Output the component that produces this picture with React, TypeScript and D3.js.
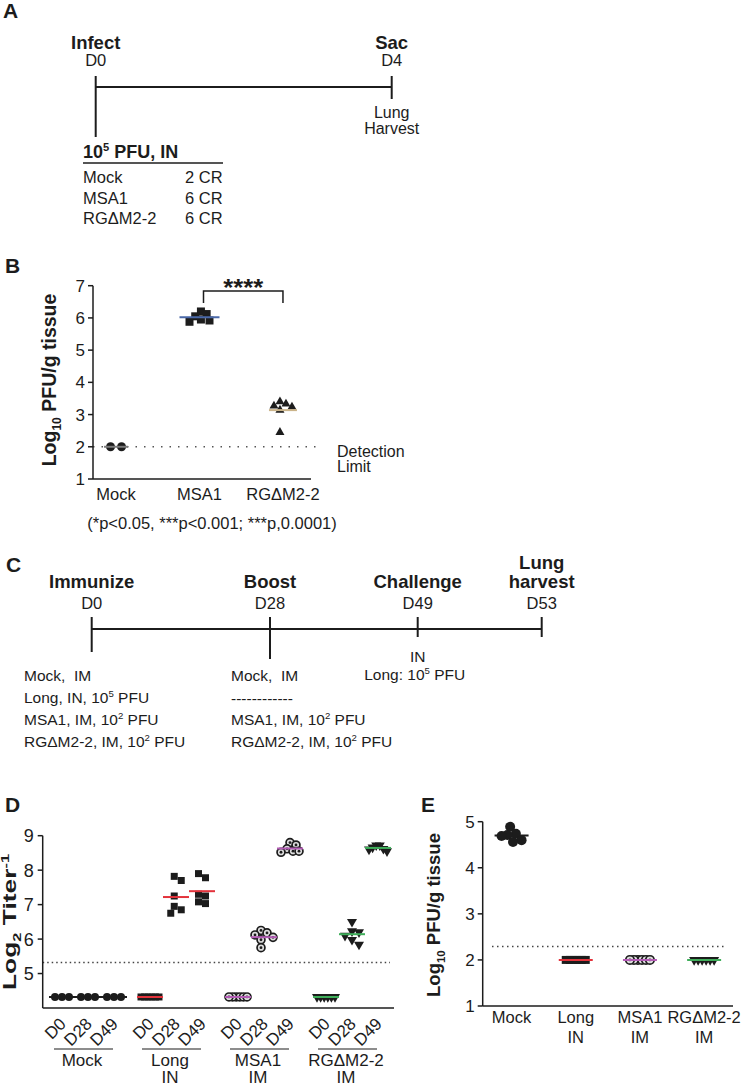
import React from "react";
import * as d3 from "d3";

const FONT = "'Liberation Sans', Arial, Helvetica, sans-serif";
const INK = "#1c1c1c";

// ---------- Panel A data ----------
const infectTitles = ["Infect", "Sac"];
const infectDays = [0, 4];
const infectDayLabels = ["D0", "D4"];
const infectGroups = ["Mock", "MSA1", "RGΔM2-2"];
const infectCounts = ["2 CR", "6 CR", "6 CR"];

// ---------- Panel B data ----------
const bCategories = ["Mock", "MSA1", "RGΔM2-2"];
const bMock = [2.0, 2.0];
const bMSA1 = [6.2, 6.12, 6.05, 5.95, 5.92, 5.88];
const bRG = [3.4, 3.33, 3.27, 3.24, 3.14, 2.45];
const bTicks = [1, 2, 3, 4, 5, 6, 7];
const bLimit = 2;

// ---------- Panel C data ----------
const cDays = [0, 28, 49, 53];
const cDayLabels = ["D0", "D28", "D49", "D53"];
const cTitles = [["Immunize"], ["Boost"], ["Challenge"], ["Lung", "harvest"]];
const cPrime = ["Mock,  IM", "Long, IN, 10^5 PFU", "MSA1, IM, 10^2 PFU", "RGΔM2-2, IM, 10^2 PFU"];
const cBoost = ["Mock,  IM", "------------", "MSA1, IM, 10^2 PFU", "RGΔM2-2, IM, 10^2 PFU"];
const cChallenge = ["IN", "Long: 10^5 PFU"];

// ---------- Panel D data ----------
const dGroups = ["Mock", "Long", "MSA1", "RG"];
const dGroupLabels = [["Mock"], ["Long", "IN"], ["MSA1", "IM"], ["RGΔM2-2", "IM"]];
const dDays = ["D0", "D28", "D49"];
const titerMock = [[4.32, 4.32, 4.32], [4.32, 4.32, 4.32], [4.32, 4.32, 4.32]];
const titerLong = [
  [4.32, 4.32, 4.32, 4.32, 4.32, 4.32],
  [7.82, 7.7, 7.25, 6.95, 6.85, 6.75],
  [7.9, 7.78, 7.3, 7.25, 7.08, 7.03],
];
const titerMSA1 = [
  [4.32, 4.32, 4.32, 4.32, 4.32, 4.32],
  [6.25, 6.18, 6.12, 6.05, 5.98, 5.75],
  [8.8, 8.73, 8.62, 8.55, 8.55, 8.52],
];
const titerRG = [
  [4.32, 4.32, 4.32, 4.32, 4.32, 4.32],
  [6.5, 6.23, 6.2, 6.1, 5.98, 5.84],
  [8.72, 8.72, 8.66, 8.62, 8.6, 8.55],
];
const dTicks = [5, 6, 7, 8, 9];
const dLimit = 5.32;

// ---------- Panel E data ----------
const eCategories = ["Mock", "Long", "MSA1", "RG"];
const eLabels = [["Mock"], ["Long", "IN"], ["MSA1", "IM"], ["RGΔM2-2", "IM"]];
const lungMock = [4.89, 4.74, 4.71, 4.69, 4.6, 4.56];
const lungLong = [2, 2, 2, 2, 2, 2];
const lungMSA1 = [2, 2, 2, 2, 2, 2];
const lungRG = [2, 2, 2, 2, 2, 2];
const eTicks = [1, 2, 3, 4, 5];
const eLimit = 2.29;

// ---------- styles ----------
const groupStyle: Record<string, { marker: string; line: string }> = {
  Mock: { marker: "circle", line: "#1c1c1c" },
  Long: { marker: "square", line: "#e3323b" },
  MSA1: { marker: "target", line: "#b35cb5" },
  RG: { marker: "triangleDown", line: "#3fae5a" },
};

// ---------- helpers ----------
function Rich({ text, fs }: { text: string; fs: number }) {
  const parts = text.split(/([\^_][^\s]+)/).filter((s) => s !== "");
  let shift = 0;
  return (
    <>
      {parts.map((p, i) => {
        if (p[0] === "^" || p[0] === "_") {
          const target = p[0] === "^" ? -fs * 0.38 : fs * 0.28;
          const dy = target - shift;
          shift = target;
          return (
            <tspan key={i} dy={dy} fontSize={fs * 0.62}>
              {p.slice(1)}
            </tspan>
          );
        }
        const dy = -shift;
        shift = 0;
        return (
          <tspan key={i} dy={dy}>
            {p}
          </tspan>
        );
      })}
    </>
  );
}

function dodge(vals: number[], y: (v: number) => number, minDist: number, step: number, maxHalf: number) {
  const order = d3.range(vals.length).sort((a, b) => vals[b] - vals[a]);
  const placed: { dx: number; py: number }[] = [];
  const out: number[] = new Array(vals.length).fill(0);
  for (const i of order) {
    const py = y(vals[i]);
    let chosen = 0;
    for (let k = 0; k < 80; k++) {
      const m = Math.ceil(k / 2);
      const cand = k === 0 ? 0 : k % 2 === 1 ? m * step : -m * step;
      if (placed.every((p) => Math.hypot(cand - p.dx, py - p.py) >= minDist - 1e-6)) {
        chosen = cand;
        break;
      }
    }
    placed.push({ dx: chosen, py });
    out[i] = chosen;
  }
  const lo = d3.min(out) ?? 0;
  const hi = d3.max(out) ?? 0;
  const c = (lo + hi) / 2;
  const half = (hi - lo) / 2;
  const k = half > maxHalf ? maxHalf / half : 1;
  return out.map((o) => (o - c) * k);
}

function Marker({ kind, x, y, s }: { kind: string; x: number; y: number; s: number }) {
  if (kind === "circle") return <circle cx={x} cy={y} r={s / 2} fill={INK} />;
  if (kind === "target")
    return (
      <g>
        <circle cx={x} cy={y} r={s / 2 - 0.8} fill="#dedede" stroke={INK} strokeWidth={1.7} />
        <circle cx={x} cy={y} r={1.4} fill={INK} />
      </g>
    );
  const type = kind === "square" ? d3.symbolSquare : d3.symbolTriangle;
  const area = kind === "square" ? s * s : (s * s * Math.sqrt(3)) / 4;
  const d = d3.symbol().type(type).size(area)() as string;
  return (
    <path
      d={d}
      transform={`translate(${x},${y})${kind === "triangleDown" ? " rotate(180)" : ""}`}
      fill={INK}
    />
  );
}

function Column({
  vals, cx, y, marker, size, lineColor, half, minDist, step, maxHalf,
}: {
  vals: number[]; cx: number; y: d3.ScaleLinear<number, number>; marker: string; size: number;
  lineColor: string; half: number; minDist: number; step: number; maxHalf: number;
}) {
  const offs = dodge(vals, y, minDist, step, maxHalf);
  const m = d3.mean(vals) as number;
  return (
    <g>
      {vals.map((v, i) => (
        <Marker key={i} kind={marker} x={cx + offs[i]} y={y(v)} s={size} />
      ))}
      <line x1={cx - half} x2={cx + half} y1={y(m)} y2={y(m)} stroke={lineColor} strokeWidth={2} />
    </g>
  );
}

function PanelLetter({ x, y, t }: { x: number; y: number; t: string }) {
  return (
    <text x={x} y={y} fontSize={21} fontWeight="bold" fill={INK}>
      {t}
    </text>
  );
}

// ---------- Panel A ----------
function PanelA() {
  const x = d3.scaleLinear().domain([0, 4]).range([95.7, 391.7]);
  const tableX = 83;
  const countX = 185;
  const rowY = d3.scalePoint<string>().domain(infectGroups).range([183, 224]);
  return (
    <g fill={INK}>
      <PanelLetter x={3} y={18} t="A" />
      {infectDays.map((d, i) => (
        <g key={i}>
          <text x={x(d)} y={49} textAnchor="middle" fontSize={18.5} fontWeight="bold">
            {infectTitles[i]}
          </text>
          <text x={x(d)} y={66} textAnchor="middle" fontSize={16.5}>
            {infectDayLabels[i]}
          </text>
        </g>
      ))}
      <line x1={x(0)} x2={x(4)} y1={87} y2={87} stroke={INK} strokeWidth={2} />
      <line x1={x(0)} x2={x(0)} y1={76} y2={137} stroke={INK} strokeWidth={2} />
      <line x1={x(4)} x2={x(4)} y1={76} y2={99} stroke={INK} strokeWidth={2} />
      <text x={x(4)} y={118} textAnchor="middle" fontSize={16}>Lung</text>
      <text x={x(4)} y={133.5} textAnchor="middle" fontSize={16}>Harvest</text>
      <text x={tableX} y={158} fontSize={18} fontWeight="bold">
        <Rich text="10^5 PFU, IN" fs={18} />
      </text>
      <line x1={tableX} x2={223} y1={163} y2={163} stroke={INK} strokeWidth={1.5} />
      {infectGroups.map((g, i) => (
        <g key={g}>
          <text x={tableX} y={rowY(g)} fontSize={16.5}>{g}</text>
          <text x={countX} y={rowY(g)} fontSize={16.5}>{infectCounts[i]}</text>
        </g>
      ))}
    </g>
  );
}

// ---------- Panel B ----------
function PanelB() {
  const y = d3.scaleLinear().domain([1, 7]).range([479, 285.7]);
  const x = d3.scalePoint<string>().domain(bCategories).range([91, 308]).padding(0.3);
  const x0 = 93, x1 = 311;
  const series = [
    { cat: "Mock", vals: bMock, marker: "circle", size: 9, color: "#7a7a7a", half: 12, minDist: 10, step: 5.5, maxHalf: 6 },
    { cat: "MSA1", vals: bMSA1, marker: "square", size: 8, color: "#4a68a8", half: 20, minDist: 7, step: 3.5, maxHalf: 10 },
    { cat: "RGΔM2-2", vals: bRG, marker: "triangleUp", size: 9, color: "#cbb48a", half: 14, minDist: 7, step: 3.5, maxHalf: 9 },
  ];
  const bx1 = (x("MSA1") as number) + 4;
  const bx2 = x("RGΔM2-2") as number;
  return (
    <g fill={INK}>
      <PanelLetter x={5} y={273} t="B" />
      <line x1={x0} x2={317} y1={y(bLimit)} y2={y(bLimit)} stroke="#555" strokeWidth={1.5} strokeDasharray="1.5 7" />
      {series.map((s) => (
        <Column key={s.cat} vals={s.vals} cx={x(s.cat) as number} y={y} marker={s.marker} size={s.size}
          lineColor={s.color} half={s.half} minDist={s.minDist} step={s.step} maxHalf={s.maxHalf} />
      ))}
      <line x1={x0} x2={x0} y1={y(7)} y2={y(1)} stroke={INK} strokeWidth={1.5} />
      <line x1={x0} x2={x1} y1={y(1)} y2={y(1)} stroke={INK} strokeWidth={1.5} />
      {bTicks.map((t) => (
        <g key={t}>
          <line x1={x0 - 5} x2={x0} y1={y(t)} y2={y(t)} stroke={INK} strokeWidth={1.5} />
          <text x={x0 - 8} y={y(t)} dy="0.36em" textAnchor="end" fontSize={17}>{t}</text>
        </g>
      ))}
      {bCategories.map((c) => (
        <text key={c} x={x(c)} y={500} textAnchor="middle" fontSize={16.5}>{c}</text>
      ))}
      <text transform={`translate(56,380) rotate(-90)`} textAnchor="middle" fontSize={19.5} fontWeight="bold">
        <Rich text="Log_10 PFU/g tissue" fs={19.5} />
      </text>
      <text x={337} y={457} fontSize={16}>Detection</text>
      <text x={337} y={472} fontSize={16}>Limit</text>
      <path d={`M${bx1},303 V291 H${bx2} V303`} fill="none" stroke={INK} strokeWidth={1.5} />
      <text x={(bx1 + bx2) / 2} y={296} textAnchor="middle" fontSize={24} fontWeight="bold" textLength={40} lengthAdjust="spacingAndGlyphs">****</text>
      <text x={212} y={529} textAnchor="middle" fontSize={16.5}>(*p&lt;0.05, ***p&lt;0.001; ***p,0.0001)</text>
    </g>
  );
}

// ---------- Panel C ----------
function PanelC() {
  const x = d3.scaleLinear().domain(cDays).range([91.7, 270, 417.7, 541.7]);
  const tickBottoms = [652, 659, 637, 637];
  const rows = d3.scalePoint<number>().domain([0, 1, 2, 3]).range([681, 747]);
  const fs = 15.5;
  return (
    <g fill={INK}>
      <PanelLetter x={6} y={572} t="C" />
      {cDays.map((d, i) => (
        <g key={d}>
          {cTitles[i].map((t, j) => (
            <text key={t} x={x(d)} y={588 - (cTitles[i].length - 1 - j) * 19} textAnchor="middle" fontSize={18.5} fontWeight="bold">
              {t}
            </text>
          ))}
          <text x={x(d)} y={609} textAnchor="middle" fontSize={16.5}>{cDayLabels[i]}</text>
          <line x1={x(d)} x2={x(d)} y1={617} y2={tickBottoms[i]} stroke={INK} strokeWidth={2} />
        </g>
      ))}
      <line x1={x(0)} x2={x(53)} y1={629} y2={629} stroke={INK} strokeWidth={2} />
      {cPrime.map((t, i) => (
        <text key={i} x={24} y={rows(i)} fontSize={fs} style={{ whiteSpace: "pre" }}>
          <Rich text={t} fs={fs} />
        </text>
      ))}
      {cBoost.map((t, i) => (
        <text key={i} x={231} y={(rows(i) as number) + (i === 1 ? 1 : 0)} fontSize={fs} style={{ whiteSpace: "pre" }}>
          <Rich text={t} fs={fs} />
        </text>
      ))}
      <text x={x(49)} y={662} textAnchor="middle" fontSize={fs}>{cChallenge[0]}</text>
      <text x={x(49) - 3} y={680} textAnchor="middle" fontSize={fs}>
        <Rich text={cChallenge[1]} fs={fs} />
      </text>
    </g>
  );
}

// ---------- Panel D ----------
function PanelD() {
  const y = d3.scaleLinear().domain([4, 9]).range([1008, 835.7]);
  const gx = d3.scaleBand<string>().domain(dGroups).range([44, 396]);
  const dx = d3.scalePoint<string>().domain(dDays).range([-26, 26]);
  const data: Record<string, number[][]> = { Mock: titerMock, Long: titerLong, MSA1: titerMSA1, RG: titerRG };
  const x0 = 42.7, x1 = 394, yb = 1008;
  const gc = (g: string) => (gx(g) as number) + gx.bandwidth() / 2;
  return (
    <g fill={INK}>
      <PanelLetter x={5} y={812} t="D" />
      <line x1={x0} x2={390} y1={y(dLimit)} y2={y(dLimit)} stroke="#444" strokeWidth={1.5} strokeDasharray="1.5 3" />
      {dGroups.map((g) =>
        dDays.map((d, j) => {
          const st = groupStyle[g];
          const size = st.marker === "square" ? 7 : st.marker === "triangleDown" ? 10 : st.marker === "target" ? 9.5 : 8;
          return (
            <Column key={g + d} vals={data[g][j]} cx={gc(g) + (dx(d) as number)} y={y} marker={st.marker} size={size}
              lineColor={st.line} half={13} minDist={7} step={3.5} maxHalf={9} />
          );
        })
      )}
      <line x1={x0} x2={x0} y1={y(9)} y2={yb} stroke={INK} strokeWidth={1.5} />
      <line x1={x0} x2={x1} y1={yb} y2={yb} stroke={INK} strokeWidth={1.5} />
      {dTicks.map((t) => (
        <g key={t}>
          <line x1={x0 - 5} x2={x0} y1={y(t)} y2={y(t)} stroke={INK} strokeWidth={1.5} />
          <text x={x0 - 9} y={y(t)} dy="0.36em" textAnchor="end" fontSize={18}>{t}</text>
        </g>
      ))}
      {dGroups.map((g, i) => (
        <g key={g}>
          {dDays.map((d) => {
            const ax = gc(g) + (dx(d) as number) + 5;
            const ay = yb + 17;
            return (
              <text key={d} transform={`translate(${ax},${ay}) rotate(-45)`} textAnchor="end" fontSize={17}>{d}</text>
            );
          })}
          <line x1={gc(g) - 34} x2={gc(g) + 25} y1={1049} y2={1049} stroke={INK} strokeWidth={1.2} />
          {dGroupLabels[i].map((t, j) => (
            <text key={j} x={gc(g) - 6} y={1066 + j * 17} textAnchor="middle" fontSize={17}>{t}</text>
          ))}
        </g>
      ))}
      <text transform={`translate(16,922) rotate(-90)`} textAnchor="middle" fontSize={18} fontWeight="bold"
        textLength={136} lengthAdjust="spacingAndGlyphs">
        <Rich text="Log_2 Titer^-1" fs={18} />
      </text>
    </g>
  );
}

// ---------- Panel E ----------
function PanelE() {
  const y = d3.scaleLinear().domain([1, 5]).range([1006, 821.7]);
  const x = d3.scalePoint<string>().domain(eCategories).range([482.7, 733]).padding(0.45);
  const data: Record<string, number[]> = { Mock: lungMock, Long: lungLong, MSA1: lungMSA1, RG: lungRG };
  const x0 = 482.7, x1 = 733, yb = 1006;
  return (
    <g fill={INK}>
      <PanelLetter x={421} y={812} t="E" />
      <line x1={492} x2={725} y1={y(eLimit)} y2={y(eLimit)} stroke="#444" strokeWidth={1.5} strokeDasharray="1.5 3.5" />
      {eCategories.map((c) => {
        const st = groupStyle[c];
        const size = st.marker === "square" ? 8 : 10;
        return (
          <Column key={c} vals={data[c]} cx={x(c) as number} y={y} marker={st.marker} size={size}
            lineColor={st.line} half={17} minDist={9} step={4.5} maxHalf={10} />
        );
      })}
      <line x1={x0} x2={x0} y1={y(5)} y2={yb} stroke={INK} strokeWidth={1.5} />
      <line x1={x0} x2={x1} y1={yb} y2={yb} stroke={INK} strokeWidth={1.5} />
      {eTicks.map((t) => (
        <g key={t}>
          <line x1={x0 - 5} x2={x0} y1={y(t)} y2={y(t)} stroke={INK} strokeWidth={1.5} />
          <text x={x0 - 8} y={y(t)} dy="0.36em" textAnchor="end" fontSize={17}>{t}</text>
        </g>
      ))}
      {eCategories.map((c, i) =>
        eLabels[i].map((t, j) => (
          <text key={c + j} x={x(c)} y={1023 + j * 20} textAnchor="middle" fontSize={16.5}>{t}</text>
        ))
      )}
      <text transform={`translate(440,915) rotate(-90)`} textAnchor="middle" fontSize={18.5} fontWeight="bold">
        <Rich text="Log_10 PFU/g tissue" fs={18.5} />
      </text>
    </g>
  );
}

export default function App() {
  return (
    <svg
      width={744}
      height={1087}
      viewBox="0 0 744 1087"
      style={{ position: "absolute", left: 0, top: 0, display: "block" }}
      fontFamily={FONT}
    >
      <rect width={744} height={1087} fill="#fff" />
      <PanelA />
      <PanelB />
      <PanelC />
      <PanelD />
      <PanelE />
    </svg>
  );
}
